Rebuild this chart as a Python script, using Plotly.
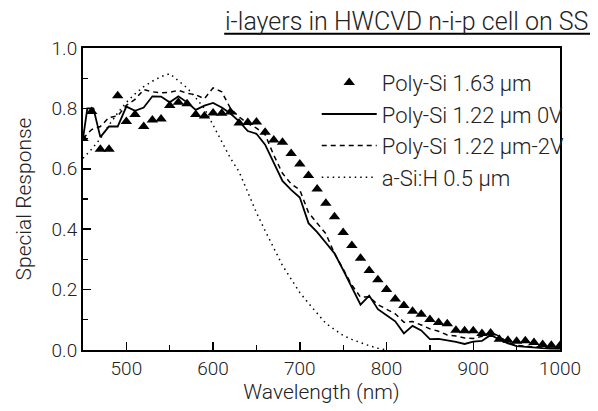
import plotly.graph_objects as go

# ---------------- data ----------------
wl_tri = [450, 460, 470, 480, 490, 500, 510, 520, 530, 540, 550, 560, 570, 580, 590,
          600, 610, 620, 630, 640, 650, 660, 670, 680, 690, 700, 710, 720, 730, 740,
          750, 760, 770, 780, 790, 800, 810, 820, 830, 840, 850, 860, 870, 880, 890,
          900, 910, 920, 930, 940, 950, 960, 970, 980, 990, 1000]
poly163 = [0.70, 0.79, 0.665, 0.665, 0.842, 0.757, 0.78, 0.74, 0.762, 0.765, 0.81, 0.82,
           0.815, 0.78, 0.775, 0.785, 0.784, 0.788, 0.752, 0.753, 0.755, 0.721, 0.695,
           0.688, 0.651, 0.616, 0.578, 0.533, 0.486, 0.441, 0.389, 0.346, 0.304, 0.263,
           0.233, 0.200, 0.169, 0.147, 0.128, 0.118, 0.101, 0.091, 0.087, 0.065, 0.064,
           0.064, 0.055, 0.056, 0.036, 0.032, 0.029, 0.031, 0.025, 0.018, 0.016, 0.015]

wl_0v = [450, 455, 462, 470, 480, 490, 500, 510, 520, 530, 540, 550, 560, 570, 580, 590,
         600, 610, 620, 630, 640, 650, 660, 670, 680, 690, 700, 710, 720, 730, 740, 750,
         760, 770, 780, 790, 800, 810, 820, 830, 840, 850, 860, 870, 880, 890, 900, 910,
         920, 930, 940, 950, 960, 970, 980, 990, 1000]
poly122_0v = [0.70, 0.80, 0.80, 0.705, 0.74, 0.74, 0.806, 0.792, 0.803, 0.84, 0.839, 0.82,
              0.84, 0.82, 0.795, 0.809, 0.818, 0.803, 0.783, 0.757, 0.725, 0.716, 0.68,
              0.62, 0.56, 0.53, 0.505, 0.42, 0.39, 0.355, 0.32, 0.265, 0.205, 0.15, 0.18,
              0.135, 0.115, 0.095, 0.055, 0.08, 0.065, 0.036, 0.037, 0.033, 0.027, 0.02,
              0.028, 0.03, 0.05, 0.035, 0.022, 0.013, 0.01, 0.008, 0.006, 0.005, 0.005]

wl_2v = [450, 460, 470, 480, 490, 500, 510, 520, 530, 540, 550, 560, 570, 580, 590, 600,
         610, 620, 630, 640, 650, 660, 670, 680, 690, 700, 710, 720, 730, 740, 750, 760,
         770, 780, 790, 800, 810, 820, 830, 840, 850, 860, 870, 880, 890, 900, 910, 920,
         930, 940, 950, 960, 970, 980, 990, 1000]
poly122_2v = [0.70, 0.73, 0.74, 0.77, 0.775, 0.81, 0.83, 0.862, 0.855, 0.852, 0.853, 0.86,
              0.85, 0.845, 0.832, 0.868, 0.855, 0.80, 0.772, 0.75, 0.735, 0.713, 0.645,
              0.585, 0.55, 0.53, 0.455, 0.42, 0.385, 0.32, 0.265, 0.215, 0.175, 0.176,
              0.15, 0.135, 0.12, 0.092, 0.094, 0.083, 0.07, 0.062, 0.05, 0.046, 0.04,
              0.038, 0.045, 0.06, 0.045, 0.025, 0.015, 0.013, 0.01, 0.008, 0.006, 0.005]

wl_asi = [450, 460, 470, 480, 490, 500, 510, 520, 530, 540, 550, 560, 570, 580, 590, 600,
          610, 620, 630, 640, 650, 660, 670, 680, 690, 700, 710, 720, 730, 740, 750, 760,
          770, 780, 790, 800]
asi_05 = [0.635, 0.665, 0.70, 0.745, 0.785, 0.82, 0.848, 0.872, 0.89, 0.905, 0.915, 0.893,
          0.868, 0.835, 0.80, 0.745, 0.69, 0.635, 0.59, 0.52, 0.455, 0.395, 0.335, 0.28,
          0.235, 0.19, 0.155, 0.12, 0.088, 0.068, 0.048, 0.035, 0.024, 0.014, 0.006, 0.0]

x_ticks = [500, 600, 700, 800, 900, 1000]
y_ticks = [0.0, 0.2, 0.4, 0.6, 0.8, 1.0]
y_ticklabels = ["0.0", "0.2", "0.4", "0.6", "0.8", "1.0"]

names = ["Poly-Si 1.63 μm", "Poly-Si 1.22 μm 0V", "Poly-Si 1.22 μm-2V", "a-Si:H 0.5 μm"]
title_text = "i-layers in HWCVD n-i-p cell on SS"

FONT = "Roboto, DejaVu Sans, sans-serif"
TXT = "#222"

fig = go.Figure()
fig.add_trace(go.Scatter(x=wl_tri, y=poly163, mode="markers", name=names[0],
                         legendgroup="a",
                         marker=dict(symbol="triangle-up", size=10, color="black")))
fig.add_trace(go.Scatter(x=wl_0v, y=poly122_0v, mode="lines", name=names[1],
                         legendgroup="b",
                         line=dict(color="black", width=1.8, dash="solid")))
fig.add_trace(go.Scatter(x=wl_2v, y=poly122_2v, mode="lines", name=names[2],
                         legendgroup="c",
                         line=dict(color="black", width=1.5, dash="5px,4px")))
fig.add_trace(go.Scatter(x=wl_asi, y=asi_05, mode="lines", name=names[3],
                         legendgroup="d",
                         line=dict(color="black", width=1.5, dash="1.5px,4px")))

# underlined title at top right (extends past the plot frame)
fig.add_annotation(text=title_text, xref="paper", yref="paper", x=1.063, y=1.089,
                   xanchor="right", yanchor="middle", showarrow=False,
                   font=dict(size=25, family=FONT, color=TXT, weight=300))
fig.add_shape(type="line", xref="paper", yref="paper", x0=0.296, x1=1.063,
              y0=1.047, y1=1.047, line=dict(color="black", width=2))

fig.update_layout(
    width=598, height=411,
    margin=dict(l=83, r=38, t=48, b=61),
    paper_bgcolor="white", plot_bgcolor="white",
    font=dict(family=FONT, size=19, color=TXT),
    showlegend=True,
    legend=dict(x=0.49, y=0.955, xanchor="left", yanchor="top",
                bgcolor="rgba(0,0,0,0)", borderwidth=0, itemwidth=55,
                font=dict(size=22, family=FONT, weight=300),
                traceorder="grouped", tracegroupgap=0),
    xaxis=dict(range=[450, 1000], tickvals=x_ticks, ticks="inside", ticklen=8,
               tickwidth=1.5, tickcolor="black", showline=True, linecolor="black",
               linewidth=2, mirror=True, showgrid=False, zeroline=False,
               minor=dict(dtick=50, tick0=450, ticks="inside", ticklen=5,
                          tickcolor="black", tickwidth=1.2),
               title=dict(text="Wavelength (nm)",
                          font=dict(size=21, family=FONT, weight=300), standoff=6),
               tickfont=dict(size=19, family=FONT, weight=300)),
    yaxis=dict(range=[0, 1.0], tickvals=y_ticks, ticktext=y_ticklabels,
               ticks="inside", ticklen=8, tickwidth=1.5, tickcolor="black",
               showline=True, linecolor="black", linewidth=2, mirror=True,
               showgrid=False, zeroline=False,
               minor=dict(dtick=0.1, ticks="inside", ticklen=5, tickcolor="black",
                          tickwidth=1.2),
               title=dict(text="Special Response",
                          font=dict(size=21, family=FONT, weight=300), standoff=14),
               tickfont=dict(size=19, family=FONT, weight=300)),
)

fig.write_html("out.html",
               config={"displayModeBar": False, "staticPlot": True},
               post_script="document.body.style.margin='0';document.body.style.overflow='hidden';")
